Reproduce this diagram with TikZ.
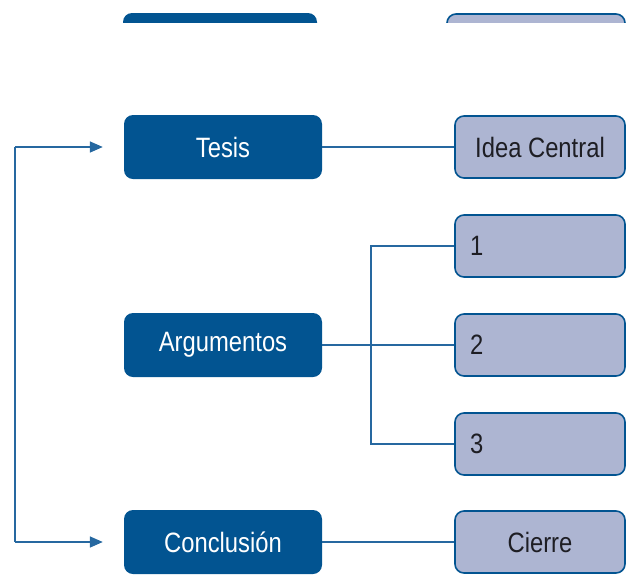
\documentclass[tikz,border=0pt]{standalone}
\usepackage{fontspec}
\setmainfont{Liberation Sans}[FakeStretch=0.85]
\usetikzlibrary{arrows.meta}

\definecolor{darkblue}{RGB}{2,84,145}
\definecolor{lineblue}{RGB}{38,104,160}
\definecolor{paleblue}{RGB}{173,181,210}
\definecolor{darktext}{RGB}{30,30,36}

\begin{document}
\begin{tikzpicture}
	[
		x=1pt, y=-1pt,
		box/.style = {shape=rectangle, rounded corners=9pt, anchor=center, font=\fontsize{28}{32}\selectfont},
		mainbox/.style = {box, fill=darkblue, text=white, minimum width=198pt, minimum height=64pt},
		subbox/.style = {box, fill=paleblue, draw=darkblue, line width=1.6pt, text=darktext, minimum width=170pt, minimum height=62pt},
		numbox/.style = {subbox, text width=140pt, inner xsep=15pt, align=left},
		link/.style = {draw=lineblue, line width=1.6pt},
		arrow/.style = {link, -{Triangle[length=13pt, width=11pt]}}
	]
	
	\useasboundingbox (0,0) rectangle (630,574);
	
	% tops of the boxes above
	\fill [darkblue, rounded corners=9pt] (123,13) rectangle (317,60);
	\filldraw [fill=paleblue, draw=darkblue, line width=1.6pt, rounded corners=9pt] (447,14) rectangle (625,60);
	\fill [white] (110,23) rectangle (630,80);
	
	\def\xa{223}
	\def\xb{540}
	
	\node [mainbox] (tesis) at (\xa, 147) {Tesis};
	\node [mainbox] (argumentos) at (\xa, 345) {Argumentos};
	\node [mainbox] (conclusion) at (\xa, 542) {Conclusión};
	
	\node [subbox] (idea) at (\xb, 147) {Idea Central};
	\node [numbox] (arg1) at (\xb, 246) {1};
	\node [numbox] (arg2) at (\xb, 345) {2};
	\node [numbox] (arg3) at (\xb, 444) {3};
	\node [subbox] (cierre) at (\xb, 542) {Cierre};
	
	\coordinate (loop) at (15, 0);
	\coordinate (fork) at (371, 0);
	
	\draw [link] (tesis) -- (idea);
	\draw [link] (argumentos) -- (arg2);
	\draw [link] (conclusion) -- (cierre);
	\draw [link] (arg1.west) -- (arg1.west -| fork) -- (arg3.west -| fork) -- (arg3.west);
	
	\draw [arrow] (conclusion.west -| loop) -- ([xshift=-21pt] conclusion.west);
	\draw [arrow] (tesis.west -| loop) -- ([xshift=-21pt] tesis.west);
	\draw [link] (tesis.west -| loop) -- (conclusion.west -| loop);
	
\end{tikzpicture}
\end{document}
